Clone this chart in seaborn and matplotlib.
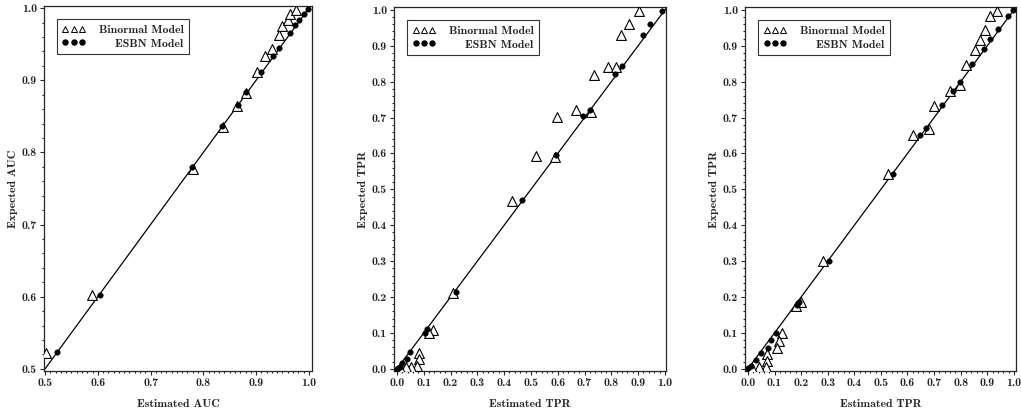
import numpy as np
import pandas as pd
import matplotlib
matplotlib.use("Agg")
import matplotlib.pyplot as plt
from matplotlib.lines import Line2D
from matplotlib.ticker import MultipleLocator
import seaborn as sns

# ------------------------------------------------------------
# data
# ------------------------------------------------------------
# panel 1 : AUC
auc_bin_est = [0.502, 0.589, 0.780, 0.838, 0.864, 0.881, 0.901, 0.917, 0.931,
               0.943, 0.950, 0.960, 0.965, 0.976]
auc_bin_exp = [0.522, 0.603, 0.777, 0.835, 0.865, 0.882, 0.911, 0.933, 0.944,
               0.963, 0.975, 0.983, 0.992, 0.998]
auc_esbn_est = [0.523, 0.604, 0.779, 0.836, 0.866, 0.881, 0.910, 0.933, 0.943,
                0.964, 0.974, 0.981, 0.990, 0.998]
auc_esbn_exp = [0.523, 0.603, 0.780, 0.837, 0.866, 0.884, 0.911, 0.933, 0.945,
                0.965, 0.976, 0.984, 0.992, 0.999]

# panel 2 : TPR
tpr1_bin_est = [0.902, 0.865, 0.836, 0.787, 0.818, 0.737, 0.670, 0.724, 0.597,
                0.520, 0.591, 0.429, 0.211, 0.136, 0.120, 0.083, 0.083, 0.074,
                0.052, 0.033, 0.012]
tpr1_bin_exp = [0.997, 0.960, 0.929, 0.842, 0.842, 0.819, 0.720, 0.716, 0.701,
                0.594, 0.591, 0.468, 0.211, 0.109, 0.099, 0.045, 0.027, 0.008,
                0.005, 0.005, 0.002]
tpr1_esbn_est = [0.990, 0.944, 0.917, 0.839, 0.814, 0.719, 0.696, 0.595, 0.467,
                 0.219, 0.112, 0.105, 0.050, 0.036, 0.019, 0.012, 0.005, 0.000]
tpr1_esbn_exp = [0.998, 0.960, 0.931, 0.844, 0.822, 0.721, 0.703, 0.596, 0.469,
                 0.214, 0.110, 0.099, 0.046, 0.028, 0.016, 0.006, 0.003, 0.000]

# panel 3 : TPR
tpr2_bin_est = [0.938, 0.911, 0.891, 0.873, 0.853, 0.819, 0.799, 0.758, 0.699,
                0.682, 0.621, 0.528, 0.284, 0.201, 0.180, 0.128, 0.118, 0.111,
                0.073, 0.071, 0.068, 0.041, 0.015]
tpr2_bin_exp = [0.998, 0.984, 0.945, 0.917, 0.889, 0.847, 0.791, 0.773, 0.733,
                0.668, 0.651, 0.544, 0.300, 0.187, 0.176, 0.101, 0.077, 0.057,
                0.042, 0.023, 0.005, 0.005, 0.002]
tpr2_esbn_est = [0.996, 0.978, 0.940, 0.909, 0.887, 0.843, 0.798, 0.771, 0.730,
                 0.671, 0.648, 0.544, 0.304, 0.193, 0.185, 0.104, 0.087, 0.075,
                 0.051, 0.029, 0.012, 0.002]
tpr2_esbn_exp = [1.000, 0.984, 0.947, 0.919, 0.892, 0.850, 0.798, 0.774, 0.734,
                 0.671, 0.651, 0.544, 0.301, 0.187, 0.177, 0.101, 0.080, 0.057,
                 0.045, 0.025, 0.008, 0.002]

auc_ticks = [0.5, 0.6, 0.7, 0.8, 0.9, 1.0]
tpr_ticks = [0.0, 0.1, 0.2, 0.3, 0.4, 0.5, 0.6, 0.7, 0.8, 0.9, 1.0]
legend_labels = ["Binormal Model", "ESBN Model"]

panels = [
    ("AUC", auc_bin_est, auc_bin_exp, auc_esbn_est, auc_esbn_exp,
     (0.498, 1.006), (0.497, 1.003), auc_ticks),
    ("TPR", tpr1_bin_est, tpr1_bin_exp, tpr1_esbn_est, tpr1_esbn_exp,
     (-0.011, 1.004), (-0.006, 1.008), tpr_ticks),
    ("TPR", tpr2_bin_est, tpr2_bin_exp, tpr2_esbn_est, tpr2_esbn_exp,
     (-0.011, 1.008), (-0.006, 1.008), tpr_ticks),
]

# ------------------------------------------------------------
# style
# ------------------------------------------------------------
sns.set_theme(style="ticks")
plt.rcParams['font.family'] = ['cmb10', 'DejaVu Serif']
plt.rcParams['axes.unicode_minus'] = False
plt.rcParams['axes.linewidth'] = 0.9
plt.rcParams['xtick.major.size'] = 3
plt.rcParams['ytick.major.size'] = 3
plt.rcParams['xtick.minor.size'] = 1.6
plt.rcParams['ytick.minor.size'] = 1.6
plt.rcParams['xtick.minor.visible'] = True
plt.rcParams['ytick.minor.visible'] = True

fig = plt.figure(figsize=(10.21, 4.12), dpi=100)
axes_pos = [
    [44 / 1021, 41 / 412, 268 / 1021, 365 / 412],
    [394 / 1021, 41 / 412, 272 / 1021, 364 / 412],
    [745 / 1021, 41 / 412, 271 / 1021, 364 / 412],
]

for pos, (name, b_est, b_exp, e_est, e_exp, xlim, ylim, ticks) in zip(axes_pos, panels):
    ax = fig.add_axes(pos)
    df_b = pd.DataFrame({'est': b_est, 'exp': b_exp})
    df_e = pd.DataFrame({'est': e_est, 'exp': e_exp})

    # identity reference line
    ax.axline((ticks[0], ticks[0]), slope=1, color='black', lw=0.9, zorder=1)
    sns.scatterplot(data=df_b, x='est', y='exp', marker='^', s=50,
                    facecolor='white', edgecolor='black', linewidth=0.8,
                    ax=ax, zorder=3)
    sns.scatterplot(data=df_e, x='est', y='exp', marker='o', s=16,
                    color='black', edgecolor='black', linewidth=0.3,
                    ax=ax, zorder=4)

    ax.set_xlim(*xlim)
    ax.set_ylim(*ylim)
    ax.set_xticks(ticks)
    ax.set_yticks(ticks)
    ax.set_xticklabels([f"{t:.1f}" for t in ticks])
    ax.set_yticklabels([f"{t:.1f}" for t in ticks])
    if name == "AUC":
        ax.xaxis.set_minor_locator(MultipleLocator(0.01))
        ax.yaxis.set_minor_locator(MultipleLocator(0.02))
    else:
        ax.xaxis.set_minor_locator(MultipleLocator(0.02))
        ax.yaxis.set_minor_locator(MultipleLocator(0.02))
    ax.tick_params(axis='both', which='both', direction='out', labelsize=8.5,
                   width=0.8, pad=2)
    for sp in ax.spines.values():
        sp.set_visible(True)
    ax.set_xlabel(f"Estimated {name}", fontsize=8.5, labelpad=8)
    ax.set_ylabel(f"Expected {name}", fontsize=8.5, labelpad=3)

    handles = [
        Line2D([], [], marker='^', ls='', ms=4, mfc='white', mec='black', mew=0.7),
        Line2D([], [], marker='o', ls='', ms=3.6, mfc='black', mec='black'),
    ]
    leg = ax.legend(handles, legend_labels, loc='upper left',
                    numpoints=3, fontsize=8.5, frameon=True, fancybox=False,
                    edgecolor='black', borderpad=0.45, labelspacing=0.3,
                    handlelength=2.0, handletextpad=1.1,
                    bbox_to_anchor=(0.025, 0.98))
    leg.get_frame().set_linewidth(0.8)

# right-align the shorter legend label like the original
fig.canvas.draw()
renderer = fig.canvas.get_renderer()
for ax in fig.axes:
    texts = ax.get_legend().get_texts()
    widths = [t.get_window_extent(renderer).width for t in texts]
    wmax = max(widths)
    for t, w in zip(texts, widths):
        t.set_x(wmax - w)

fig.savefig("out.png", dpi=100)
